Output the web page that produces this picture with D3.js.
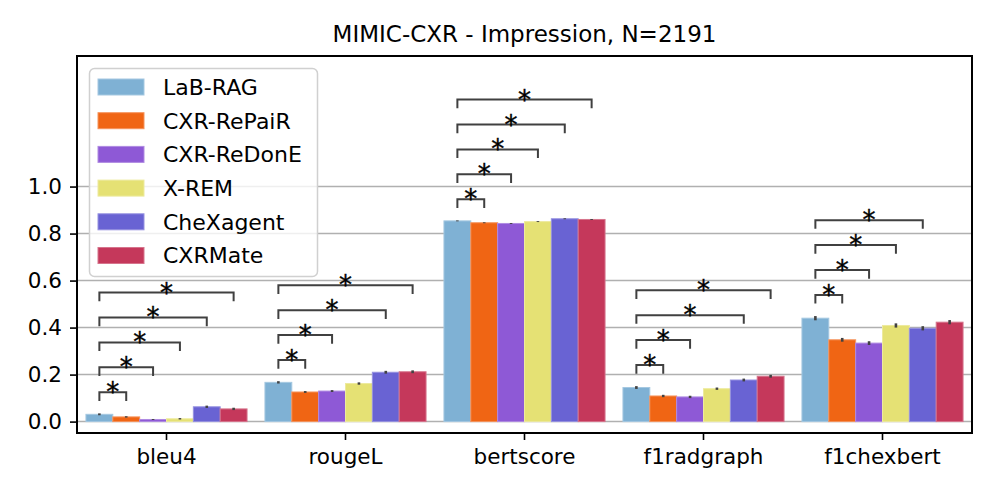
<!DOCTYPE html>
<html>
<head>
<meta charset="utf-8">
<script src="https://cdn.jsdelivr.net/npm/d3@7"></script>
<style>
  body { margin: 0; background: #fff; }
  svg { display: block; font-family: "DejaVu Sans", sans-serif; }
</style>
</head>
<body>
<svg width="997" height="498"></svg>
<script>
// metrics on the x axis, methods as bar series
const metrics = ['bleu4', 'rougeL', 'bertscore', 'f1radgraph', 'f1chexbert'];
const methods = ['LaB-RAG', 'CXR-RePaiR', 'CXR-ReDonE', 'X-REM', 'CheXagent', 'CXRMate'];

const labRag    = [0.031, 0.167, 0.854, 0.145, 0.440];
const cxrRepair = [0.020, 0.126, 0.846, 0.109, 0.348];
const cxrRedone = [0.009, 0.130, 0.843, 0.105, 0.334];
const xRem      = [0.012, 0.162, 0.851, 0.140, 0.409];
const chexagent = [0.063, 0.210, 0.863, 0.177, 0.397];
const cxrMate   = [0.054, 0.212, 0.860, 0.193, 0.423];

// half widths of the error bars
const errLabRag    = [0.004, 0.005, 0.002, 0.006, 0.009];
const errCxrRepair = [0.003, 0.004, 0.002, 0.005, 0.008];
const errCxrRedone = [0.002, 0.004, 0.002, 0.005, 0.008];
const errXRem      = [0.003, 0.005, 0.002, 0.005, 0.009];
const errChexagent = [0.005, 0.006, 0.002, 0.006, 0.009];
const errCxrMate   = [0.005, 0.006, 0.002, 0.006, 0.009];

// methods that differ significantly from LaB-RAG, per metric
const sigBleu4      = ['CXR-RePaiR', 'CXR-ReDonE', 'X-REM', 'CheXagent', 'CXRMate'];
const sigRougeL     = ['CXR-RePaiR', 'CXR-ReDonE', 'CheXagent', 'CXRMate'];
const sigBertscore  = ['CXR-RePaiR', 'CXR-ReDonE', 'X-REM', 'CheXagent', 'CXRMate'];
const sigF1radgraph = ['CXR-RePaiR', 'CXR-ReDonE', 'CheXagent', 'CXRMate'];
const sigF1chexbert = ['CXR-RePaiR', 'CXR-ReDonE', 'X-REM', 'CheXagent'];

const yTicks = [0, 0.2, 0.4, 0.6, 0.8, 1.0];
const title = 'MIMIC-CXR - Impression, N=2191';

const colors = ['#7fb1d4', '#f06514', '#8e59d6', '#e5e174', '#6963d3', '#c5385b'];

const values = [labRag, cxrRepair, cxrRedone, xRem, chexagent, cxrMate];
const errors = [errLabRag, errCxrRepair, errCxrRedone, errXRem, errChexagent, errCxrMate];
const sigs = [sigBleu4, sigRougeL, sigBertscore, sigF1radgraph, sigF1chexbert];

const svg = d3.select('svg');
const plot = { left: 77, right: 972, top: 56, bottom: 433 };

const x = d3.scaleBand().domain(metrics).range([plot.left, plot.right])
  .paddingInner(0.1).paddingOuter(0.05);
const xIn = d3.scaleBand().domain(methods).range([0, x.bandwidth()]);
const y = d3.scaleLinear().domain([-0.0485, 1.5555]).range([plot.bottom, plot.top]);

// grid
svg.append('g').selectAll('line').data(yTicks).join('line')
  .attr('x1', plot.left).attr('x2', plot.right)
  .attr('y1', d => y(d)).attr('y2', d => y(d))
  .attr('stroke', '#b0b0b0').attr('stroke-width', 1.5);

const rows = [];
metrics.forEach((m, i) => methods.forEach((s, j) => {
  rows.push({ m, s, j, v: values[j][i], e: errors[j][i] });
}));

// bars
svg.append('g').selectAll('rect').data(rows).join('rect')
  .attr('x', d => x(d.m) + xIn(d.s))
  .attr('width', xIn.bandwidth())
  .attr('y', d => y(d.v))
  .attr('height', d => y(0) - y(d.v))
  .attr('fill', d => colors[d.j])
  .attr('stroke', d => d3.interpolateRgb(colors[d.j], '#fff')(0.3))
  .attr('stroke-width', 1);

// error bars
svg.append('g').selectAll('line').data(rows).join('line')
  .attr('x1', d => x(d.m) + xIn(d.s) + xIn.bandwidth() / 2)
  .attr('x2', d => x(d.m) + xIn(d.s) + xIn.bandwidth() / 2)
  .attr('y1', d => y(d.v - d.e))
  .attr('y2', d => y(d.v + d.e))
  .attr('stroke', '#424242').attr('stroke-width', 2.6);

// significance brackets
const ann = svg.append('g');
metrics.forEach((m, i) => {
  const cx = s => x(m) + xIn(s) + xIn.bandwidth() / 2;
  let prev = null;
  sigs[i].forEach(s => {
    const jEnd = methods.indexOf(s);
    const maxBar = d3.max(d3.range(jEnd + 1), j => values[j][i] + errors[j][i]);
    let base = maxBar + 0.053;
    if (prev !== null) base = Math.max(base, prev + 0.106);
    prev = base;
    const topV = base + 0.037;
    const x1 = cx(methods[0]), x2 = cx(s);
    ann.append('path')
      .attr('d', `M${x1},${y(base)}V${y(topV)}H${x2}V${y(base)}`)
      .attr('fill', 'none').attr('stroke', '#404040').attr('stroke-width', 2);
    ann.append('text')
      .attr('x', (x1 + x2) / 2).attr('y', y(topV) + 9)
      .attr('text-anchor', 'middle').attr('font-size', 26)
      .attr('font-family', 'DejaVu Sans').attr('fill', '#000')
      .attr('stroke', '#000').attr('stroke-width', 0.4)
      .text('*');
  });
});

// axes
const xAxis = svg.append('g').attr('transform', `translate(0,${plot.bottom})`)
  .call(d3.axisBottom(x).tickSize(7).tickPadding(9));
const yAxis = svg.append('g').attr('transform', `translate(${plot.left},0)`)
  .call(d3.axisLeft(y).tickValues(yTicks).tickFormat(d3.format('.1f')).tickSize(7).tickPadding(8));
[xAxis, yAxis].forEach(a => {
  a.select('.domain').remove();
  a.selectAll('line').attr('stroke', '#000').attr('stroke-width', 1.6);
  a.selectAll('text').attr('font-size', 21.5).attr('font-family', 'DejaVu Sans').attr('fill', '#000');
});

// frame
svg.append('rect').attr('x', plot.left).attr('y', plot.top)
  .attr('width', plot.right - plot.left).attr('height', plot.bottom - plot.top)
  .attr('fill', 'none').attr('stroke', '#000').attr('stroke-width', 2);

// title
svg.append('text').attr('x', (plot.left + plot.right) / 2).attr('y', 42)
  .attr('text-anchor', 'middle').attr('font-size', 23).attr('fill', '#000').text(title);

// legend
const lg = svg.append('g');
lg.append('rect').attr('x', 89.5).attr('y', 68.5).attr('width', 228).attr('height', 208)
  .attr('rx', 5).attr('fill', '#fff').attr('fill-opacity', 0.8)
  .attr('stroke', '#d0d0d0').attr('stroke-width', 1.5);
methods.forEach((s, j) => {
  const cy = 87 + j * 33.7;
  lg.append('rect').attr('x', 98).attr('y', cy - 8).attr('width', 46).attr('height', 16)
    .attr('fill', colors[j])
    .attr('stroke', d3.interpolateRgb(colors[j], '#fff')(0.3)).attr('stroke-width', 1);
  lg.append('text').attr('x', 163).attr('y', cy).attr('dy', '0.36em')
    .attr('font-size', 22).attr('fill', '#000').text(s);
});
</script>
</body>
</html>
